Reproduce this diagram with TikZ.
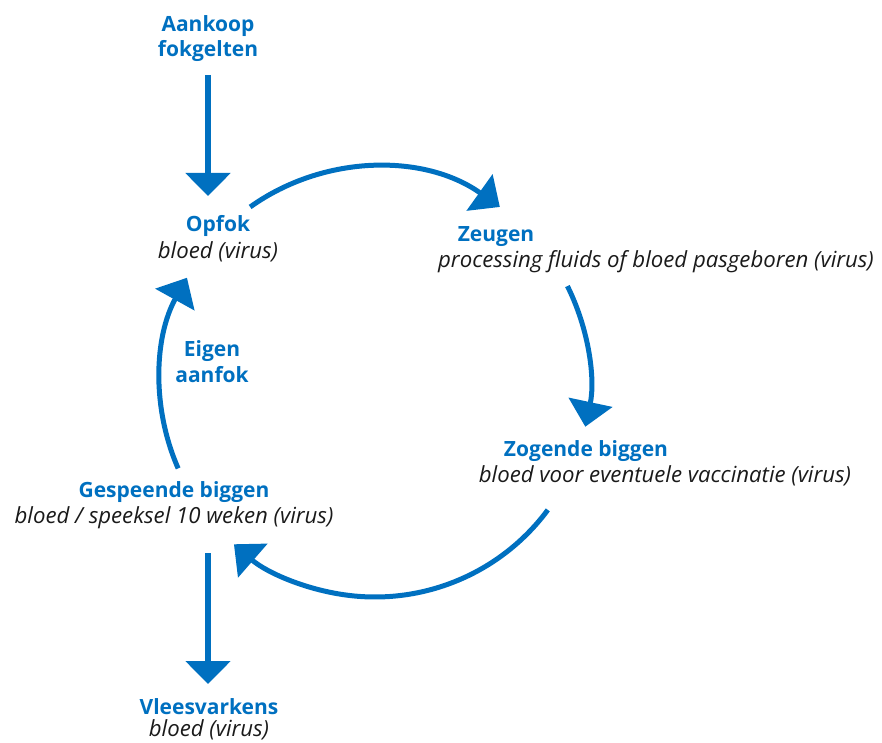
\documentclass[tikz,border=0pt]{standalone}
\usepackage{fontspec}
\setmainfont{Open Sans}
\usetikzlibrary{arrows.meta,calc}
\definecolor{vblue}{RGB}{0,112,192}
\definecolor{vtext}{RGB}{26,26,26}
\tikzset{
  ttl/.style={inner sep=0pt, anchor=base, text=vblue, font=\bfseries\fontsize{21}{25}\selectfont},
  sub/.style={inner sep=0pt, anchor=base, text=vtext, font=\itshape\fontsize{22.2}{26}\selectfont},
  straightarr/.style={draw=vblue, line width=6pt, -{Triangle[length=23pt,width=44pt]}},
  arcarr/.style={draw=vblue, line width=5pt, -{Triangle[length=25pt,width=44pt]}},
}
\begin{document}
\begin{tikzpicture}[x=1pt,y=1pt]
\useasboundingbox (0,0) rectangle (882,742);
% texts (y = 742 - image baseline)
\node[ttl] (aankoop) at (208,710) {Aankoop};
\node[ttl] (fokgelten) at (208,685) {fokgelten};
\node[ttl] (opfok) at (218,510) {Opfok};
\node[sub] (opfokb) at (218,483) {bloed (virus)};
\node[ttl] (zeugen) at (496,500) {Zeugen};
\node[sub] (zeugenb) at (656,474) {processing fluids of bloed pasgeboren (virus)};
\node[ttl] (zogende) at (586,286) {Zogende biggen};
\node[sub] (zogendeb) at (665,260) {bloed voor eventuele vaccinatie (virus)};
\node[ttl] (gespeende) at (174,245) {Gespeende biggen};
\node[sub] (gespeendeb) at (174,219) {bloed / speeksel 10 weken (virus)};
\node[ttl] (eigen) at (212,385) {Eigen};
\node[ttl] (aanfok) at (212,359) {aanfok};
\node[ttl] (vlees) at (209,28) {Vleesvarkens};
\node[sub] (vleesb) at (209,6) {bloed (virus)};
% straight arrows
\coordinate (s1) at (208,667);
\coordinate (e1) at (208,546);
\coordinate (s2) at (208,189);
\coordinate (e2) at (208,58);
\draw[straightarr] (s1) -- (e1);
\draw[straightarr] (s2) -- (e2);
% cycle arcs
\coordinate (c) at (375,360);
\draw[arcarr] ($(c)+(125.5:215)$) arc[start angle=125.5, end angle=54.5, radius=215];
\draw[arcarr] ($(c)+(26.5:215)$) arc[start angle=26.5, end angle=-12, radius=215];
\draw[arcarr] ($(c)+(-36.5:215)$) arc[start angle=-36.5, end angle=-131, radius=215];
\draw[arcarr] ($(c)+(203.7:215)$) arc[start angle=203.7, end angle=151, radius=215];
\end{tikzpicture}
\end{document}
